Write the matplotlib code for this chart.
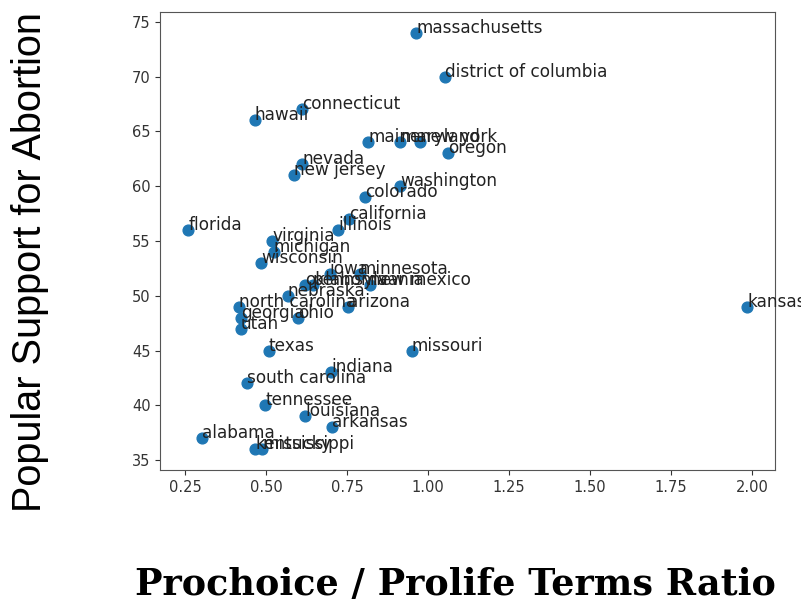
import matplotlib
matplotlib.use("Agg")
import matplotlib.pyplot as plt

states = ["massachusetts", "district of columbia", "connecticut", "hawaii",
          "maine", "maryland", "new york", "oregon", "nevada", "new jersey",
          "washington", "colorado", "california", "florida", "illinois",
          "virginia", "michigan", "wisconsin", "iowa", "minnesota",
          "oklahoma", "pennsylvania", "new mexico", "nebraska",
          "north carolina", "arizona", "georgia", "ohio", "utah",
          "texas", "missouri", "indiana", "south carolina", "tennessee",
          "louisiana", "arkansas", "alabama", "kentucky", "mississippi",
          "kansas"]
ratio = [0.964, 1.051, 0.612, 0.466,
         0.815, 0.914, 0.976, 1.063, 0.612, 0.586,
         0.914, 0.805, 0.757, 0.260, 0.723,
         0.519, 0.524, 0.485, 0.697, 0.790,
         0.620, 0.645, 0.822, 0.568,
         0.418, 0.754, 0.423, 0.599, 0.423,
         0.509, 0.950, 0.702, 0.443, 0.498,
         0.621, 0.705, 0.304, 0.467, 0.488,
         1.984]
support = [74, 70, 67, 66,
           64, 64, 64, 63, 62, 61,
           60, 59, 57, 56, 56,
           55, 54, 53, 52, 52,
           51, 51, 51, 50,
           49, 49, 48, 48, 47,
           45, 45, 43, 42, 40,
           39, 38, 37, 36, 36,
           49]

fig = plt.figure(figsize=(8.01, 6.14), dpi=100)
ax = fig.add_axes([0.2, 0.2345, 0.7675, 0.746])
ax.scatter(ratio, support, s=60, color="#1f77b4")
for name, x, y in zip(states, ratio, support):
    ax.annotate(name, (x, y), fontsize=12.2, color="#222222")
ax.set_xticks([0.25, 0.5, 0.75, 1.0, 1.25, 1.5, 1.75, 2.0])
ax.set_yticks([35, 40, 45, 50, 55, 60, 65, 70, 75])
ax.tick_params(labelsize=10.5, colors="#333333")
for sp in ax.spines.values():
    sp.set_color("#555555")

fig.text(0.037, 0.573, "Popular Support for Abortion", rotation=90,
         ha="center", va="center", fontsize=28.5, family="Liberation Sans")
fig.text(0.569, 0.047, "Prochoice / Prolife Terms Ratio", ha="center",
         va="center", fontsize=26.3, family="DejaVu Serif", weight="bold")

fig.savefig("out.png", dpi=100)
